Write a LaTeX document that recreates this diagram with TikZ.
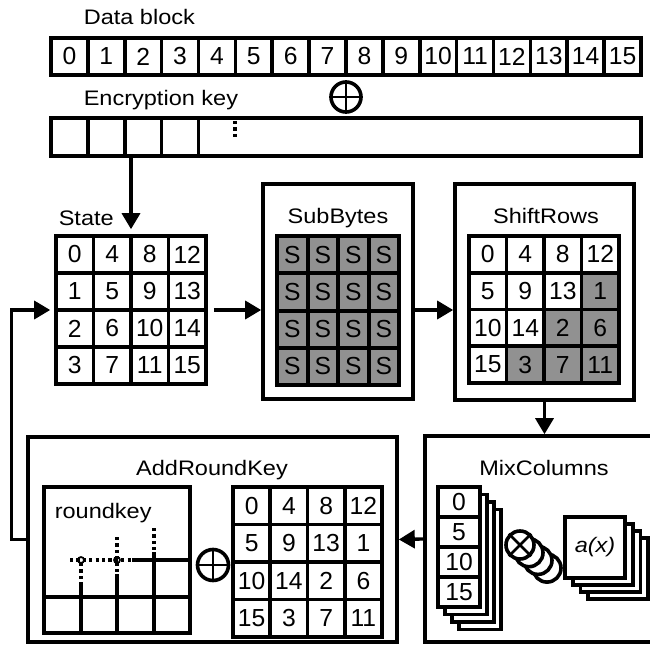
\documentclass[tikz,border=0pt]{standalone}
\usepackage{fontspec}
\setmainfont{Liberation Sans}
\newfontfamily\labelfam{Liberation Sans}[FakeStretch=1.12]
\usetikzlibrary{arrows.meta,positioning,calc}
\definecolor{sboxgray}{RGB}{145,145,145}
\newcommand\pxu{0.75pt}
\newcommand\numfont{\fontsize{18.5}{20}\selectfont}
\newcommand\lblfont{\labelfam\fontsize{15.75}{18}\selectfont}

\begin{document}
\begin{tikzpicture}[x=0.75pt,y=-0.75pt,line width=2.7pt,
  cell/.style 2 args={draw,fill=white,inner sep=0pt,minimum width=#1*\pxu,minimum height=#2*\pxu,font=\numfont},
  stagebox/.style 2 args={draw,inner sep=0pt,minimum width=#1*\pxu,minimum height=#2*\pxu},
  lbl/.style={font=\lblfont,inner sep=0pt},
  xorsym/.style={draw,circle,inner sep=0pt,minimum size=30*\pxu},
  arr/.style={line width=2.5pt,-{Triangle[length=12pt,width=13.5pt]}},
  dots/.style={line width=2.4pt,dash pattern=on 2.4pt off 2.4pt}]
  \useasboundingbox (0,0) rectangle (650,646);
  \clip (0,0) rectangle (650,646);

  % data block and key
  \node[lbl,anchor=base west] (datalbl) at (82,25) {Data block};
  \foreach \i in {0,...,15}
    \node[cell={36.9}{37}] (d\i) at ({51+36.875*(\i+0.5)},56.5) {\i};
  \node[xorsym] (xtop) at (346,97) {};
  \draw[line width=2pt] (xtop.north) -- (xtop.south) (xtop.west) -- (xtop.east);
  \node[lbl,anchor=base west] (keylbl) at (82,105) {Encryption key};
  \foreach \i in {0,...,3}
    \node[cell={36.9}{38}] (k\i) at ({51+36.875*(\i+0.5)},137) {};
  \node[cell={442.5}{38}] (krest) at (419.75,137) {};
  \draw[dots] (235,121) -- (235,140);

  % state
  \node[lbl,anchor=base west] (statelbl) at (57,225) {State};
  \foreach \r in {0,...,3}
    \foreach \c in {0,...,3} {
      \pgfmathtruncatemacro\v{\r+4*\c}
      \node[cell={37.5}{37}] (s\r\c) at ({56+37.5*(\c+0.5)},{236+37*(\r+0.5)}) {\v};
    }
  \node[stagebox={150}{148}] (state) at (131,310) {};
  \draw[arr,shorten >=3.75pt] (state.north |- krest.south) -- (state.north);

  % SubBytes
  \node[stagebox={150}{215}] (subbytes) at (338,291.5) {};
  \node[lbl,anchor=base] (sublbl) at (338,223) {SubBytes};
  \foreach \r in {0,...,3}
    \foreach \c in {0,...,3}
      \node[cell={30.5}{37.25},fill=sboxgray,line width=3pt] (sb\r\c) at ({277+30.5*(\c+0.5)},{236+37.25*(\r+0.5)}) {S};
  \draw[arr,shorten <=4.5pt] (state.east) -- (state.east -| subbytes.west);

  % ShiftRows
  \node[stagebox={179}{216}] (shiftrows) at (544.5,292) {};
  \node[lbl,anchor=base] (shiftlbl) at (546,223) {ShiftRows};
  \foreach \r in {0,...,3}
    \foreach \c in {0,...,3} {
      \pgfmathtruncatemacro\v{\r+4*mod(\c+\r,4)}
      \ifnum\numexpr\c+\r\relax>3 \def\cfill{sboxgray}\else\def\cfill{white}\fi
      \node[cell={37.5}{36.75},fill=\cfill] (sr\r\c) at ({469+37.5*(\c+0.5)},{236+36.75*(\r+0.5)}) {\v};
    }
  \draw[arr] (subbytes.east |- state.east) -- (shiftrows.west |- state.east);

  % MixColumns
  \node[stagebox={240}{206}] (mixcol) at (545,539) {};
  \node[lbl,anchor=base] (mixlbl) at (544,475) {MixColumns};
  \draw[arr] (shiftrows.south) -- (shiftrows.south |- mixcol.north);
  \foreach \k in {3,2,1}
    \node[stagebox={42}{120},fill=white] (colcopy\k) at ({459+7*\k},{547+7.5*\k}) {};
  \foreach \v [count=\r from 0] in {0,5,10,15}
    \node[cell={42}{30}] (mc\r) at (459,{502+30*\r}) {\v};
  \foreach \k in {3,2,1}
    \node[xorsym,fill=white,minimum size=28*\pxu] (mulcopy\k) at ({520+9*\k},{545+7.7*\k}) {};
  \node[xorsym,fill=white,minimum size=28*\pxu] (mul) at (520,545) {};
  \draw[line width=2pt] (mul.north east) -- (mul.south west) (mul.north west) -- (mul.south east);
  \foreach \k in {3,2,1}
    \node[stagebox={60}{61},fill=white] (polycopy\k) at ({595+7.7*\k},{547.5+7*\k}) {};
  \node[stagebox={60}{61},fill=white,font=\lblfont\itshape] (poly) at (595,547.5) {a(x)};

  % AddRoundKey
  \node[stagebox={369}{205}] (addkey) at (212.5,539.5) {};
  \node[lbl,anchor=base] (addlbl) at (212,475) {AddRoundKey};
  \draw[arr] (mixcol.west) -- (addkey.east);
  \draw[arr,shorten >=3pt] (addkey.west) -- ++(-15,0) |- (state.west);
  \node[stagebox={146}{146}] (rkey) at (117,560) {};
  \node[lbl,anchor=base west] (rkeylbl) at (53,518) {roundkey};
  \draw (44,597) -- (190,597)
        (81,582) -- (81,633) (117,574) -- (117,633) (154,552) -- (154,633)
        (132,560) -- (190,560);
  \draw[dots] (70,560) -- (132,560) (81,563) -- (81,582)
              (117,537) -- (117,574) (154,528) -- (154,552);
  \draw[line width=1.3pt] (81,560) circle (3) (117,560) circle (3);
  \node[xorsym,minimum size=31*\pxu] (xmid) at (213,565) {};
  \draw[line width=2pt] (xmid.north) -- (xmid.south) (xmid.west) -- (xmid.east);
  \foreach \r in {0,...,3}
    \foreach \c in {0,...,3} {
      \pgfmathtruncatemacro\v{\r+4*mod(\c+\r,4)}
      \node[cell={37.25}{37.5}] (ak\r\c) at ({233+37.25*(\c+0.5)},{487+37.5*(\r+0.5)}) {\v};
    }
\end{tikzpicture}
\end{document}
